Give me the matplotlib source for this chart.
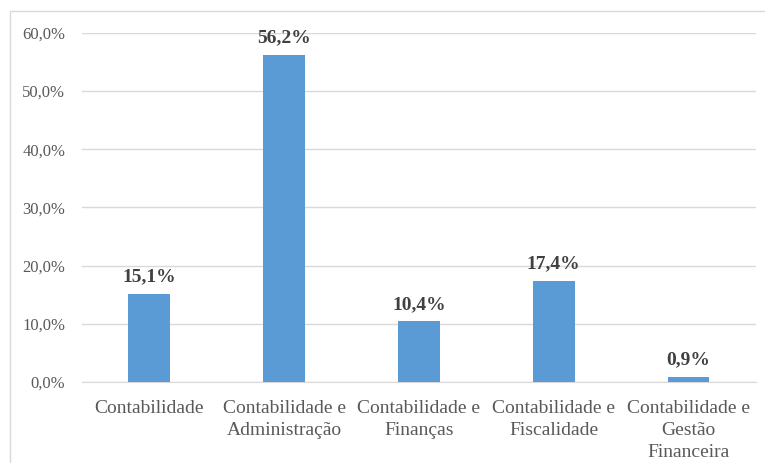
import matplotlib.pyplot as plt
from matplotlib.patches import Rectangle

# Percentage of respondents per course
categories = [
    "Contabilidade",
    "Contabilidade e\nAdministração",
    "Contabilidade e\nFinanças",
    "Contabilidade e\nFiscalidade",
    "Contabilidade e\nGestão\nFinanceira",
]
values = [15.1, 56.2, 10.4, 17.4, 0.9]
y_ticks = [0, 10, 20, 30, 40, 50, 60]

plt.rcParams['font.family'] = ['Liberation Serif', 'DejaVu Serif']

fig = plt.figure(figsize=(7.65, 4.63), dpi=100)
ax = fig.add_axes([0.107, 0.175, 0.881, 0.754])

# chart frame
fig.patches.append(Rectangle((10 / 765, -0.1), 1.2, 1 - 11 / 463 + 0.1,
                             transform=fig.transFigure, fill=False,
                             edgecolor="#D9D9D9", linewidth=1))

x = range(len(categories))
bars = ax.bar(x, values, width=0.31, color="#5B9BD5", zorder=3)

for bar, v in zip(bars, values):
    ax.text(bar.get_x() + bar.get_width() / 2, v + 1.5,
            f"{v:.1f}%".replace(".", ","), ha="center", va="bottom",
            fontsize=14, fontweight="bold", color="#404040")

ax.set_xlim(-0.5, len(categories) - 0.5)
ax.set_ylim(0, 60)
ax.set_yticks(y_ticks)
ax.set_yticklabels([f"{t:.1f}%".replace(".", ",") for t in y_ticks],
                   fontsize=12)
ax.set_xticks(list(x))
ax.set_xticklabels(categories, linespacing=1.38, fontsize=14)

ax.grid(axis="y", color="#D9D9D9", linewidth=1, zorder=0)
for side in ["top", "right", "left"]:
    ax.spines[side].set_visible(False)
ax.spines["bottom"].set_color("#D9D9D9")
ax.tick_params(axis="both", length=0, labelcolor="#595959")
ax.tick_params(axis="x", pad=13)
ax.tick_params(axis="y", pad=12)

fig.savefig("out.png", dpi=100)
